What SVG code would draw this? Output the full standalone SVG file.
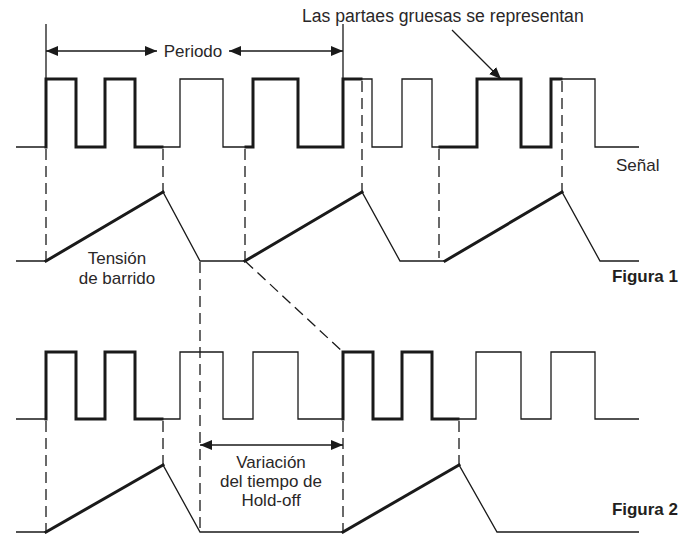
<svg xmlns="http://www.w3.org/2000/svg" width="688" height="534" viewBox="0 0 688 534">
<defs>
<marker id="ah" viewBox="0 0 12 10" refX="12" refY="5" markerWidth="12" markerHeight="10" markerUnits="userSpaceOnUse" orient="auto-start-reverse">
<path d="M0,0 L12,5 L0,10 z" fill="#1a1a1a"/>
</marker>
</defs>
<style>
.thin{fill:none;stroke:#1a1a1a;stroke-width:1.3;stroke-linejoin:miter}
.thick{fill:none;stroke:#1a1a1a;stroke-width:3;stroke-linejoin:miter;stroke-linecap:square}
.dash{fill:none;stroke:#1a1a1a;stroke-width:1.3;stroke-dasharray:11 6}
.arr{fill:none;stroke:#1a1a1a;stroke-width:1.3}
.t{font-family:"Liberation Sans",Arial,sans-serif;font-size:17px;fill:#2a2728}
.b{font-family:"Liberation Sans",Arial,sans-serif;font-size:17px;font-weight:bold;fill:#231f20}
</style>
<rect width="688" height="534" fill="#ffffff"/>
<g id="signal1">
<path class="thin" d="M16,147 H46 V79 H76 V147 H105 V79 H135 V147 H180 V79 H223 V147 H253 V79 H298 V147 H343 V79 H372 V147 H402 V79 H432 V147 H477 V79 H521 V147 H551 V79 H595 V147 H639"/>
<path class="thick" d="M46,147 V79 H76 V147 H105 V79 H135 V147 H162"/>
<path class="thick" d="M246,147 H253 V79 H298 V147 H343 V79 H361"/>
<path class="thick" d="M440,147 H477 V79 H521 V147 H551 V79 H561"/>
</g>
<g id="sweep1">
<path class="thin" d="M16,261 H46 L163,192 L200,261 H245 L362,192 L400,261 H445 L562,192 L600,261 H639"/>
<path class="thick" d="M46,261 L163,192"/>
<path class="thick" d="M245,261 L362,192"/>
<path class="thick" d="M445,261 L562,192"/>
</g>
<g id="signal2">
<path class="thin" d="M16,419 H46 V352 H76 V419 H105 V352 H135 V419 H180 V352 H223 V419 H253 V352 H298 V419 H343 V352 H373 V419 H402 V352 H432 V419 H476 V352 H521 V419 H551 V352 H595 V419 H639"/>
<path class="thick" d="M46,419 V352 H76 V419 H105 V352 H135 V419 H162"/>
<path class="thick" d="M343,419 V352 H373 V419 H402 V352 H432 V419 H458"/>
</g>
<g id="sweep2">
<path class="thin" d="M16,532 H46 L163,465 L200,532 H343 L459,465 L497,532 H639"/>
<path class="thick" d="M46,532 L163,465"/>
<path class="thick" d="M343,532 L459,465"/>
</g>
<g id="connectors">
<line class="dash" x1="46" y1="149" x2="46" y2="260"/>
<line class="dash" x1="163" y1="149" x2="163" y2="192"/>
<line class="dash" x1="245" y1="149" x2="245" y2="260"/>
<line class="dash" x1="362" y1="81" x2="362" y2="192"/>
<line class="dash" x1="439" y1="149" x2="439" y2="258"/>
<line class="dash" x1="562" y1="81" x2="562" y2="192"/>
<line class="dash" x1="200" y1="262" x2="200" y2="532"/>
<line class="dash" x1="245" y1="261" x2="343" y2="352"/>
<line class="dash" x1="46" y1="421" x2="46" y2="531"/>
<line class="dash" x1="163" y1="421" x2="163" y2="465"/>
<line class="dash" x1="343" y1="421" x2="343" y2="531"/>
<line class="dash" x1="459" y1="421" x2="459" y2="465"/>
<line class="arr" x1="46" y1="24" x2="46" y2="79"/>
<line class="arr" x1="343" y1="24" x2="343" y2="79"/>
<line class="arr" x1="46" y1="51" x2="157" y2="51" marker-start="url(#ah)" marker-end="url(#ah)"/>
<line class="arr" x1="229" y1="51" x2="343" y2="51" marker-start="url(#ah)" marker-end="url(#ah)"/>
<line class="arr" x1="200" y1="445" x2="343" y2="445" marker-start="url(#ah)" marker-end="url(#ah)"/>
<line class="arr" x1="452" y1="30" x2="501" y2="79" marker-end="url(#ah)"/>
</g>
<g id="labels">
<text class="t" x="193" y="57" text-anchor="middle">Periodo</text>
<text class="t" x="302" y="22" style="font-size:17.6px">Las partaes gruesas se representan</text>
<text class="t" x="616" y="171">Señal</text>
<text class="t" x="117" y="264" text-anchor="middle">Tensión</text>
<text class="t" x="117" y="284" text-anchor="middle">de barrido</text>
<text class="b" x="678" y="282" text-anchor="end">Figura 1</text>
<text class="t" x="271" y="468" text-anchor="middle">Variación</text>
<text class="t" x="271" y="487" text-anchor="middle">del tiempo de</text>
<text class="t" x="271" y="506" text-anchor="middle">Hold-off</text>
<text class="b" x="678" y="515" text-anchor="end">Figura 2</text>
</g>
</svg>
